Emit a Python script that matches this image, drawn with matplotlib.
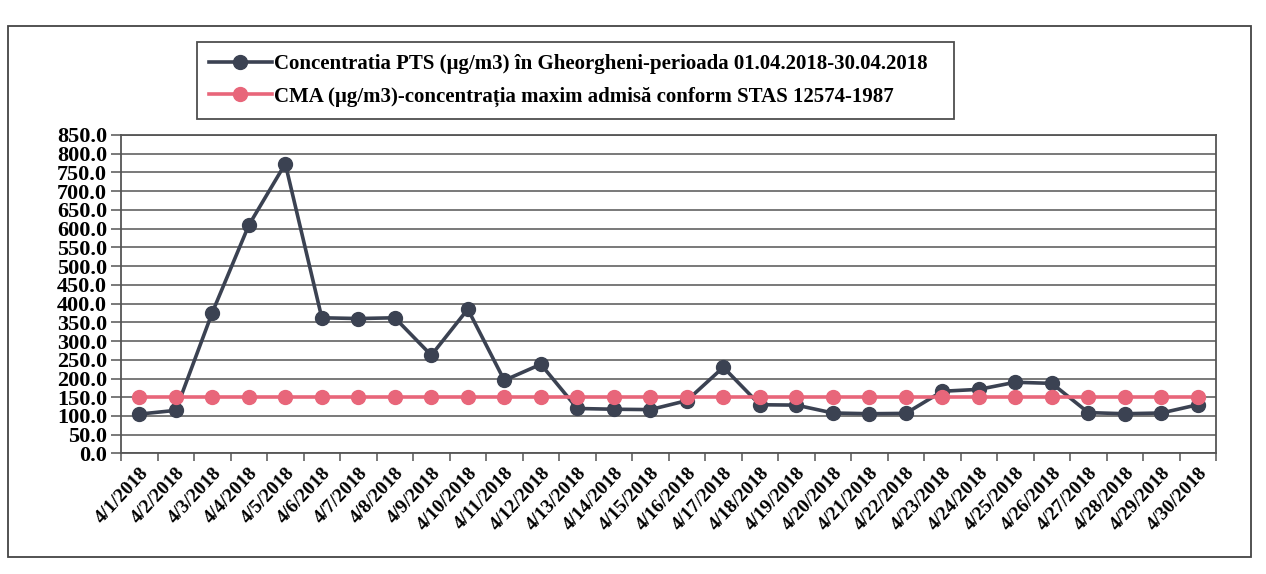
import matplotlib.pyplot as plt
from matplotlib.patches import Rectangle

plt.rcParams['font.family'] = ['Liberation Serif', 'DejaVu Serif']

# date labels for April 2018
days = ['4/%d/2018' % d for d in range(1, 31)]

# PTS concentration (ug/m3)
pts = [105, 115, 376, 609, 773, 362, 360, 362, 262, 385,
       195, 238, 120, 118, 117, 141, 230, 130, 129, 108,
       106, 107, 166, 171, 190, 187, 109, 106, 108, 130]

# maximum admissible concentration (constant)
cma = [150] * 30

yticks = list(range(0, 851, 50))

dark = '#3b4252'
pink = '#e8667a'
grid_col = '#555555'

fig = plt.figure(figsize=(12.66, 5.74), dpi=100)
ax = fig.add_axes([0.0956, 0.21, 0.865, 0.555])

x = list(range(1, 31))
ax.plot(x, pts, '-o', color=dark, lw=2.6, ms=10, zorder=3,
        label='Concentratia PTS (µg/m3) în Gheorgheni-perioada 01.04.2018-30.04.2018')
ax.plot(x, cma, '-o', color=pink, lw=2.6, ms=10, zorder=4,
        label='CMA (µg/m3)-concentrația maxim admisă conform STAS 12574-1987')

ax.set_xlim(0.5, 30.5)
ax.set_ylim(0, 850)
ax.set_yticks(yticks)
ax.set_yticklabels(['%.1f' % v for v in yticks], fontsize=16, fontweight='bold')
ax.yaxis.grid(True, color=grid_col, lw=1.1)
ax.set_axisbelow(True)

# ticks on category boundaries, labels under the points
ax.set_xticks([i + 0.5 for i in range(0, 31)], minor=False)
ax.set_xticklabels([])
ax.set_xticks(x, minor=True)
ax.set_xticklabels(days, minor=True, rotation=47, ha='right', rotation_mode='anchor',
                   fontsize=14, fontweight='bold')
ax.tick_params(axis='x', which='minor', length=0, pad=8)
ax.tick_params(axis='x', which='major', length=6, color=grid_col, width=1.1)
ax.tick_params(axis='y', length=7, color=grid_col, width=1.1, pad=3)

for s in ax.spines.values():
    s.set_color(grid_col)
    s.set_linewidth(1.3)

leg = fig.legend(loc='center', bbox_to_anchor=(0.147, 0.79, 0.615, 0.14), mode='expand',
                 fancybox=False, edgecolor='#222222', handlelength=3.0,
                 prop={'size': 15, 'weight': 'bold'}, borderpad=0.6, labelspacing=0.6,
                 handletextpad=0.1)
leg.get_frame().set_linewidth(1.3)

# outer chart border
fig.patches.append(Rectangle((0.006, 0.03), 0.982, 0.925, transform=fig.transFigure,
                             fill=False, edgecolor='#444444', lw=1.3))

fig.savefig('out.png', dpi=100)
